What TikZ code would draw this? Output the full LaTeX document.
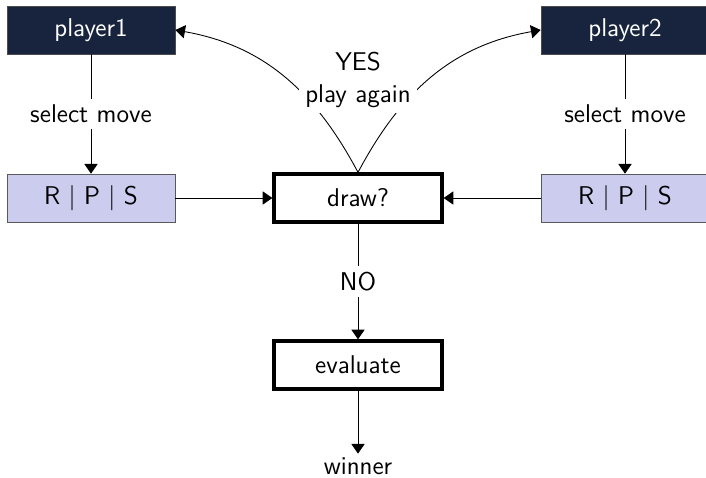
\documentclass[tikz,border=0pt]{standalone}
\usepackage{amsmath, amssymb}
\usepackage{tikz}
\usetikzlibrary{arrows.meta}

\definecolor{navy}{RGB}{24,36,62}
\definecolor{lavender}{RGB}{204,204,238}

\begin{document}
\begin{tikzpicture}[x=0.02cm, y=-0.02cm,
		every node/.style={font=\sffamily\fontsize{14.6}{18}\selectfont},
		box/.style={minimum width=3.36cm, minimum height=0.96cm, inner sep=0pt},
		playerbox/.style={box, fill=navy, draw=gray!60!black, text=white},
		movebox/.style={box, fill=lavender, draw=gray!70!black},
		checkbox/.style={box, draw=black, line width=1.9pt, fill=white},
		arr/.style={-{Triangle[length=5.5pt,width=7.5pt]}, line width=0.5pt}]
		
		\useasboundingbox (0,0) rectangle (706,477);
		
		%
		\coordinate (P1) at (91,30);
		\coordinate (P2) at (625,30);
		\coordinate (M1) at (91,198);
		\coordinate (M2) at (625,198);
		\coordinate (D) at (358,198);
		\coordinate (E) at (358,365);
		
		\node[playerbox] (player1) at (P1) {player1};
		\node[playerbox] (player2) at (P2) {player2};
		\node[movebox] (rps1) at (M1) {R $|$ P $|$ S};
		\node[movebox] (rps2) at (M2) {R $|$ P $|$ S};
		\node[checkbox] (draw) at (D) {draw?};
		\node[checkbox] (evaluate) at (E) {evaluate};
		\node[inner sep=2pt] (winner) at (358,466) {winner};
		
		\draw[arr] (player1) -- node[fill=white] {select move} (rps1);
		\draw[arr] (player2) -- node[fill=white] {select move} (rps2);
		\draw[arr] (rps1) -- (draw);
		\draw[arr] (rps2) -- (draw);
		\draw[arr] (draw) -- node[fill=white] {NO} (evaluate);
		\draw[arr] (evaluate) -- (winner);
		
		%
		\draw[arr] (draw.north) to[out=118, in=-10] (player1.east);
		\draw[arr] (draw.north) to[out=62, in=190] (player2.west);
		\node[fill=white, align=center] (again) at (358,80) {YES\\play again};
		
	\end{tikzpicture}
\end{document}
